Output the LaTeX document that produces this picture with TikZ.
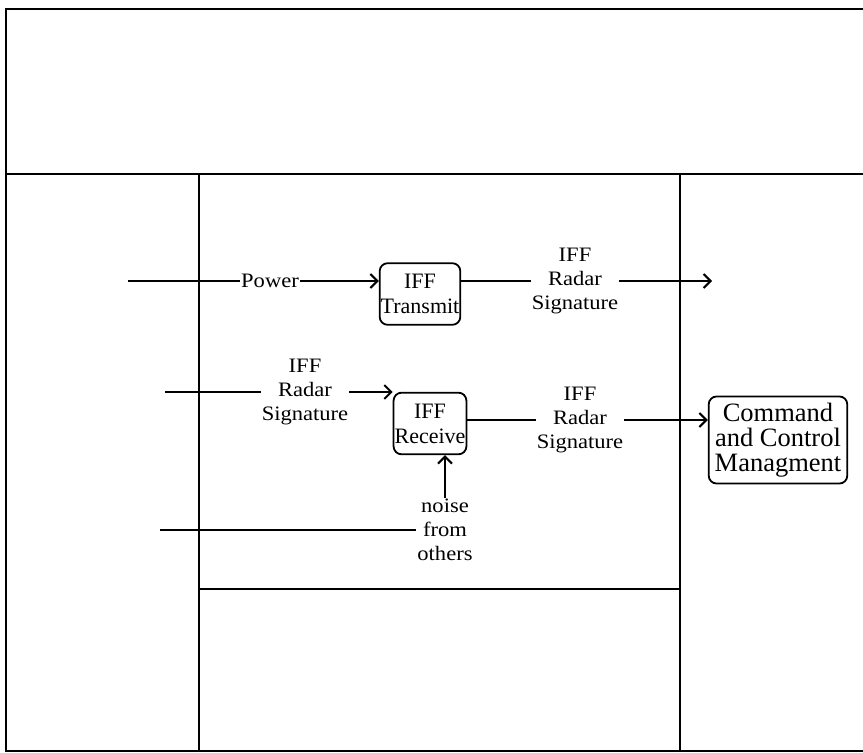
\documentclass[tikz,border=0pt]{standalone}
\usepackage{fontspec}
\setmainfont{Liberation Serif}
\newfontfamily\lblfont{Liberation Serif}[FakeStretch=1.1]
\usepackage{tikz}
\usetikzlibrary{positioning, arrows.meta, calc}
\tikzset{
  frame/.style={draw=black, line width=2pt},
  proc/.style={
    draw=black, line width=1.8pt, rounded corners=8pt,
    align=center, inner xsep=1pt, inner ysep=11pt,
    font=\fontsize{22}{25}\selectfont,
  },
  proc big/.style={
    proc, inner xsep=6pt, inner ysep=6.5pt,
    font=\fontsize{26.5}{25}\selectfont,
  },
  lbl/.style={align=center, inner sep=1pt,
    font=\lblfont\fontsize{20.5}{24}\selectfont},
  flow/.style={draw=black, line width=1.8pt},
  flowA/.style={flow, -{Straight Barb[length=7pt, width=14pt, line width=2pt]}},
}

\begin{document}
\begin{tikzpicture}[x=1pt, y=-1pt]
\useasboundingbox (0,0) rectangle (863,753);

% swim lanes
\draw[frame] (863,9) -- (6,9) -- (6,751) -- (863,751);
\draw[frame] (6,174) -- (863,174);
\draw[frame] (199,174) -- (199,751);
\draw[frame] (680,174) -- (680,751);
\draw[frame] (199,589) -- (680,589);

% functions
\node[proc] (tx) at (420,294) {IFF\\Transmit};
\node[proc] (rx) at (430,423.5) {IFF\\Receive};
\node[proc big] (cc) at (778,440) {Command\\and Control\\Managment};

% flow labels
\node[lbl] (pwr) at (270,281) {Power};
\node[lbl] (txsig) at (575,281) {IFF\\Radar\\Signature};
\node[lbl] (rxin) at (305,392) {IFF\\Radar\\Signature};
\node[lbl] (rxout) at (580,420) {IFF\\Radar\\Signature};
\node[lbl] (noise) at (445,530) {noise\\from\\others};

\coordinate (pwrsrc) at (128,281);
\coordinate (txsink) at (712,281);
\coordinate (sigsrc) at (165,392);
\coordinate (noisesrc) at (160,530);

\draw[flow] (pwrsrc) -- (pwr.west);
\draw[flowA] (pwr.east) -- (pwr.east -| tx.west);
\draw[flow] (tx.east |- txsig.west) -- (txsig.west);
\draw[flowA] (txsig.east) -- (txsink);
\draw[flow] (sigsrc) -- (rxin.west);
\draw[flowA] (rxin.east) -- (rxin.east -| rx.west);
\draw[flow] (rx.east |- rxout.west) -- (rxout.west);
\draw[flowA] (rxout.east) -- (rxout.east -| cc.west);
\draw[flow] (noisesrc) -- (noise.west);
\draw[flowA] (noise.north) -- (noise.north |- rx.south);

\end{tikzpicture}
\end{document}
